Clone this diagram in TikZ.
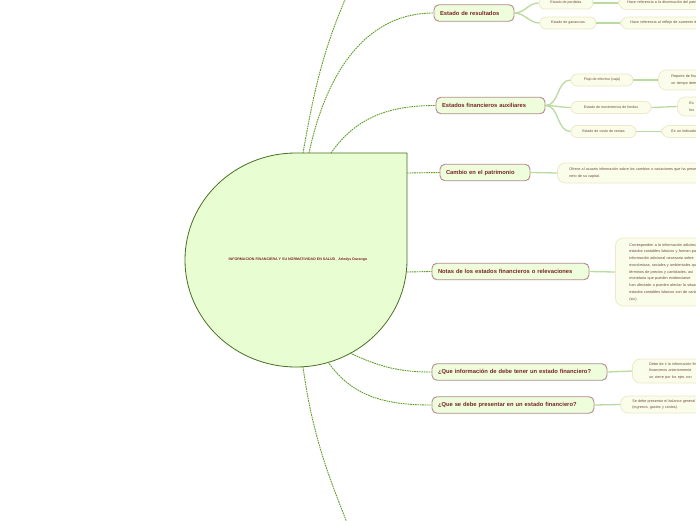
\documentclass[tikz,border=0pt]{standalone}
\usepackage{fontspec}
\setmainfont{Liberation Sans}
\definecolor{trunkgreen}{HTML}{5E9E24}
\definecolor{twiggreen}{HTML}{B9DBA0}
\definecolor{rootfill}{HTML}{E9FDD3}
\definecolor{rootline}{HTML}{46701E}
\definecolor{mainfill}{HTML}{EEFDDC}
\definecolor{mainline}{HTML}{B38C8C}
\definecolor{maintext}{HTML}{7A2626}
\definecolor{subfill}{HTML}{FAFDE9}
\definecolor{subline}{HTML}{EEE9C9}
\definecolor{subtext}{HTML}{6E4A3C}
\begin{document}
\begin{tikzpicture}[x=1pt, y=1pt,
  mainbox/.style={draw=mainline, fill=mainfill, line width=0.9pt, rounded corners=5pt, minimum height=16.5pt, inner xsep=6pt, inner ysep=0pt, text width=#1, align=left, text=maintext, font=\fontsize{5.8}{6.5}\selectfont\bfseries},
  subbox/.style={draw=subline, fill=subfill, line width=0.8pt, rounded corners=6pt, minimum height=12pt, inner sep=0pt, text=subtext, font=\fontsize{3.6}{4.5}\selectfont},
  leafbox/.style={subbox, anchor=west, align=left, rounded corners=8pt, text width=230pt, inner xsep=11pt, minimum height=#1, font=\fontsize{3.7}{6.9}\selectfont},
  trunk/.style={draw=trunkgreen, line width=0.9pt, dash pattern=on 1.6pt off 0.8pt},
  twig/.style={draw=twiggreen, line width=1.3pt}]
  \fill[white, use as bounding box] (0,0) rectangle (696,-520);
  \clip (0,0) rectangle (696,-520);

  % central idea
  \filldraw[fill=rootfill, draw=rootline, line width=0.8pt] (296,-153) -- (407,-153) -- (407,-260)
    arc[start angle=0, end angle=-270, x radius=111, y radius=107] -- cycle;
  \node[text=maintext, font=\fontsize{3.6}{4}\selectfont\bfseries] (raiz) at (298,-260) {INFORMACION FINANCIERA Y SU NORMATIVIDAD EN SALUD\_ Arledys Durango};
  \coordinate (r1) at (303,-153);
  \coordinate (r2) at (309,-153);
  \coordinate (r3) at (331,-153);
  \coordinate (r4) at (407,-173);
  \coordinate (r5) at (407,-272);
  \coordinate (r6) at (350,-353);
  \coordinate (r7) at (328,-362);
  \coordinate (r8) at (303,-367);
  \coordinate (fuera1) at (356,25);
  \coordinate (fuera2) at (356,-545);

  % main topics
  \node[mainbox=68pt] (resultados) at (474,-13) {Estado de resultados};
  \node[mainbox=97pt] (auxiliares) at (490.5,-105.5) {Estados financieros auxiliares};
  \node[mainbox=78pt] (patrimonio) at (485,-172.5) {Cambio en el patrimonio};
  \node[mainbox=145pt] (notas) at (510.5,-271.5) {Notas de los estados financieros o relevaciones};
  \node[mainbox=163pt] (informacion) at (519.5,-372) {¿Que información de debe tener un estado financiero?};
  \node[mainbox=150pt] (presentar) at (513,-405) {¿Que se debe presentar en un estado financiero?};

  \draw[trunk] (r1) to[out=80, in=245] (fuera1);
  \draw[trunk] (r2) to[out=78, in=180] (resultados.west);
  \draw[trunk] (r3) to[out=55, in=180] (auxiliares.west);
  \draw[trunk] (r4) -- (patrimonio.west);
  \draw[trunk] (r5) -- (notas.west);
  \draw[trunk] (r6) to[out=-25, in=180] (informacion.west);
  \draw[trunk] (r7) to[out=-55, in=180] (presentar.west);
  \draw[trunk] (r8) to[out=-82, in=112] (fuera2);

  % subtopics
  \node[subbox, minimum width=54pt] (perdidas) at (566,-3) {Estado de perdidas};
  \node[subbox, minimum width=56pt] (ganancias) at (568,-23) {Estado de ganancias};
  \node[subbox, minimum width=62pt] (flujo) at (602,-80) {Flujo de efectivo (caja)};
  \node[subbox, minimum width=80pt] (fondos) at (611,-107.5) {Estado de movimientos de fondos};
  \node[subbox, minimum width=65pt] (costo) at (603.5,-131.5) {Estado de costo de ventas};

  \draw[twig] (resultados.east) to[out=0, in=180] (perdidas.west);
  \draw[twig] (resultados.east) to[out=0, in=180] (ganancias.west);
  \draw[twig] (auxiliares.east) to[out=0, in=180] (flujo.west);
  \draw[twig] (auxiliares.east) to[out=0, in=180] (fondos.west);
  \draw[twig] (auxiliares.east) to[out=0, in=180] (costo.west);

  % notes
  \node[leafbox=13pt, inner xsep=9pt] (perdidasnota) at (618,-3) {Hace referencia a la disminución del patrimonio};
  \node[leafbox=12pt, inner xsep=10pt] (gananciasnota) at (620,-23) {Hace referencia al reflejo de aumento del patrimonio};
  \node[leafbox=20pt, inner xsep=13pt] (flujonota) at (658,-80) {Reporte de financiamiento en\\un tiempo determinado};
  \node[leafbox=19pt, inner xsep=12pt] (fondosnota) at (677,-106.5) {Es\\los};
  \node[leafbox=12pt, inner xsep=10pt] (costonota) at (661,-131.5) {Es un indicador};
  \node[leafbox=20pt, inner xsep=12pt] (patrimonionota) at (557,-173) {Ofrece al usuario información sobre los cambios o variaciones que ha presentado el patrimonio\\neto de su capital.};
  \node[leafbox=68pt, inner xsep=14pt, font=\fontsize{3.8}{6.75}\selectfont] (notasnota) at (615,-272) {Corresponden a la información adicional\\estados contables básicos y forman parte\\información adicional necesaria sobre\\económicas, sociales y ambientales que\\términos de precios y cantidades, así\\monetaria que pueden evidenciarse\\han afectado o pueden afectar la situación\\estados contables básicos son de carácter\\(sic).};
  \node[leafbox=24pt, inner xsep=17pt] (informacionnota) at (632,-371) {Debe de ir la información financiera\\financieros anteriormente\\un cierre por los ejes con};
  \node[leafbox=17pt, inner xsep=12pt] (presentarnota) at (620,-404.5) {Se debe presentar el balance general\\(ingresos, gastos y costos).};

  \draw[twig] (perdidas.east) -- (perdidasnota.west);
  \draw[twig] (ganancias.east) -- (gananciasnota.west);
  \draw[twig] (flujo.east) -- (flujonota.west);
  \draw[twig] (fondos.east) -- (fondosnota.west);
  \draw[twig] (costo.east) -- (costonota.west);
  \draw[twig] (patrimonio.east) -- (patrimonionota.west);
  \draw[twig] (notas.east) -- (notasnota.west);
  \draw[twig] (informacion.east) -- (informacionnota.west);
  \draw[twig] (presentar.east) -- (presentarnota.west);
\end{tikzpicture}
\end{document}
